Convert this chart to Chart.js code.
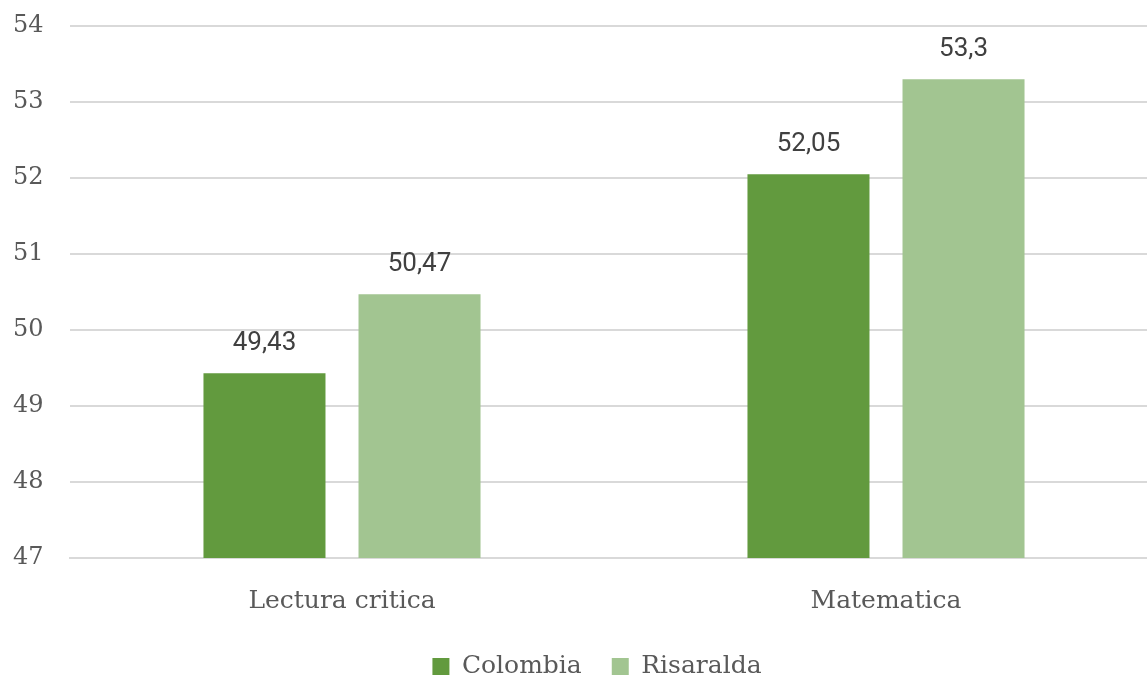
<!DOCTYPE html>
<html><head><meta charset="utf-8">
<script src="https://cdn.jsdelivr.net/npm/chart.js@4"></script>
<style>html,body{margin:0;padding:0;background:#fff;overflow:hidden}#wrap{width:1147px;height:675px;overflow:hidden}</style>
</head><body><div id="wrap"><canvas id="c" width="1158" height="675"></canvas></div>
<script>
const categories = ["Lectura critica", "Matematica"];
const colombia = [49.43, 52.05];
const risaralda = [50.47, 53.3];
const labelsColombia = ["49,43", "52,05"];
const labelsRisaralda = ["50,47", "53,3"];
const yTicks = [47, 48, 49, 50, 51, 52, 53, 54];

const valueLabels = {
  id: 'valueLabels',
  afterDatasetsDraw(chart) {
    const ctx = chart.ctx;
    ctx.save();
    ctx.font = '26px Roboto';
    ctx.fillStyle = '#404040';
    ctx.textAlign = 'center';
    ctx.textBaseline = 'alphabetic';
    const lbls = [labelsColombia, labelsRisaralda];
    chart.data.datasets.forEach((ds, i) => {
      chart.getDatasetMeta(i).data.forEach((bar, j) => {
        ctx.fillText(lbls[i][j], bar.x, bar.y - 23);
      });
    });
    ctx.restore();
  }
};

new Chart(document.getElementById('c'), {
  type: 'bar',
  data: {
    labels: categories,
    datasets: [
      { label: 'Colombia', data: colombia, backgroundColor: '#629a3e' },
      { label: 'Risaralda', data: risaralda, backgroundColor: '#a2c591' }
    ]
  },
  options: {
    responsive: false,
    animation: false,
    layout: { padding: { top: 26, right: 0, left: 36, bottom: -14 } },
    datasets: { bar: { categoryPercentage: 0.570, barPercentage: 0.787 } },
    scales: {
      x: {
        grid: { display: false },
        border: { display: true, color: '#d9d9d9', width: 2 },
        afterFit(scale) { scale.height = 66; },
        ticks: { color: '#595959', font: { family: 'DejaVu Serif', size: 25 }, padding: 20 }
      },
      y: {
        min: 47, max: 54,
        afterBuildTicks(scale) { scale.ticks = yTicks.map(v => ({ value: v })); },
        afterFit(scale) { scale.width = 34; scale.paddingTop = 0; scale.paddingBottom = 0; },
        grid: { color: '#d9d9d9', lineWidth: 2, drawTicks: false },
        border: { display: false },
        ticks: { color: '#595959', font: { family: 'DejaVu Serif', size: 24 }, mirror: true, padding: -57 }
      }
    },
    plugins: {
      legend: {
        position: 'bottom',
        labels: { color: '#595959', font: { family: 'DejaVu Serif', size: 25 }, boxWidth: 17, boxHeight: 17, padding: 30 }
      },
      tooltip: { enabled: false }
    }
  },
  plugins: [valueLabels]
});
</script></body></html>
